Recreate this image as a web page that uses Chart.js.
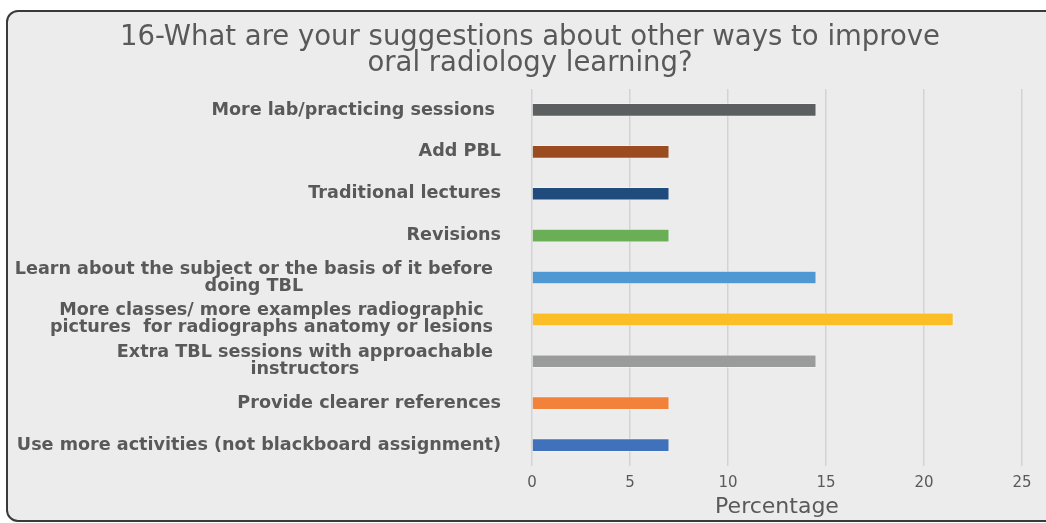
<!DOCTYPE html>
<html>
<head>
<meta charset="utf-8">
<script src="https://cdn.jsdelivr.net/npm/chart.js@4.4.1/dist/chart.umd.min.js"></script>
<style>
  html, body { margin: 0; padding: 0; background: #ffffff; width: 1046px; height: 523px; overflow: hidden; }
  #frame { position: absolute; left: 6px; top: 10px; width: 1100px; height: 512px; box-sizing: border-box;
           border: 2px solid #3a3a3a; border-radius: 12px; background: #ececec; }
  #c { position: absolute; left: 0; top: 0; }
</style>
</head>
<body>
<div id="frame"></div>
<canvas id="c" width="1046" height="523"></canvas>
<script>
const titleLines = ["16-What are your suggestions about other ways to improve", "oral radiology learning?"];
const categories = [
  "More lab/practicing sessions ",
  "Add PBL",
  "Traditional lectures",
  "Revisions",
  ["Learn about the subject or the basis of it before", "doing TBL"],
  ["More classes/ more examples radiographic", "pictures  for radiographs anatomy or lesions"],
  ["Extra TBL sessions with approachable", "instructors"],
  "Provide clearer references",
  "Use more activities (not blackboard assignment)"
];
const percentages = [14.5, 7, 7, 7, 14.5, 21.5, 14.5, 7, 7];
const barColors = ["#5b5f60", "#9b4b20", "#1f4c7c", "#6aaf56", "#4e98d4", "#fdbd27", "#9a9c9c", "#f28139", "#4072bb"];
const xTicks = [0, 5, 10, 15, 20, 25];
const xAxisTitle = "Percentage";

const TEXT = "#595959";
const FONT = "'DejaVu Sans', sans-serif";

// centre the lines of multi-line category labels on each other (as in the original)
const centerMultiLine = {
  id: 'centerMultiLine',
  afterLayout(chart) {
    // the title is centred over the frame, a little right of the canvas centre
    if (chart.titleBlock) chart.titleBlock.left = 38;
  },
  beforeDraw(chart) {
    const s = chart.scales.y;
    const items = s.getLabelItems();
    const ctx = chart.ctx;
    items.forEach(it => {
      if (Array.isArray(it.label) && it.label.length > 1) {
        ctx.save();
        ctx.font = it.font.string;
        const w = Math.max(...it.label.map(l => ctx.measureText(l).width));
        ctx.restore();
        if (it.options.textAlign === 'right') {
          it.options.textAlign = 'center';
          it.options.translation[0] -= w / 2 + 8;
        }
      }
    });
  }
};

new Chart(document.getElementById('c'), {
  type: 'bar',
  data: {
    labels: categories,
    datasets: [{
      data: percentages,
      backgroundColor: barColors,
      borderColor: 'rgba(255,255,255,0.35)',
      borderWidth: 1,
      barThickness: 13
    }]
  },
  options: {
    indexAxis: 'y',
    responsive: false,
    animation: false,
    devicePixelRatio: 1,
    layout: { padding: { left: 0, right: 24, top: 0, bottom: 0 } },
    plugins: {
      legend: { display: false },
      tooltip: { enabled: false },
      title: {
        display: true,
        text: titleLines,
        color: TEXT,
        font: { family: FONT, size: 27.5, weight: 'normal', lineHeight: '26px' },
        padding: { top: 25, bottom: 12 }
      }
    },
    scales: {
      x: {
        min: 0, max: 25,
        afterBuildTicks: (s) => { s.ticks = xTicks.map(v => ({ value: v })); },
        grid: { color: '#d3d3d3', lineWidth: 1.5, drawTicks: false },
        border: { display: false },
        ticks: { color: TEXT, padding: 8, font: { family: FONT, size: 15 } },
        title: {
          display: true, text: xAxisTitle, color: TEXT,
          font: { family: FONT, size: 22 },
          padding: { top: 0, bottom: 3 }
        },
        afterFit: (s) => { s.height = 57; }
      },
      y: {
        grid: { display: false },
        border: { display: false },
        ticks: {
          color: TEXT, padding: 23,
          font: { family: FONT, size: 17.6, weight: 'bold', lineHeight: '17px' }
        },
        afterFit: (s) => { s.width = 532; }
      }
    }
  },
  plugins: [centerMultiLine]
});
</script>
</body>
</html>
